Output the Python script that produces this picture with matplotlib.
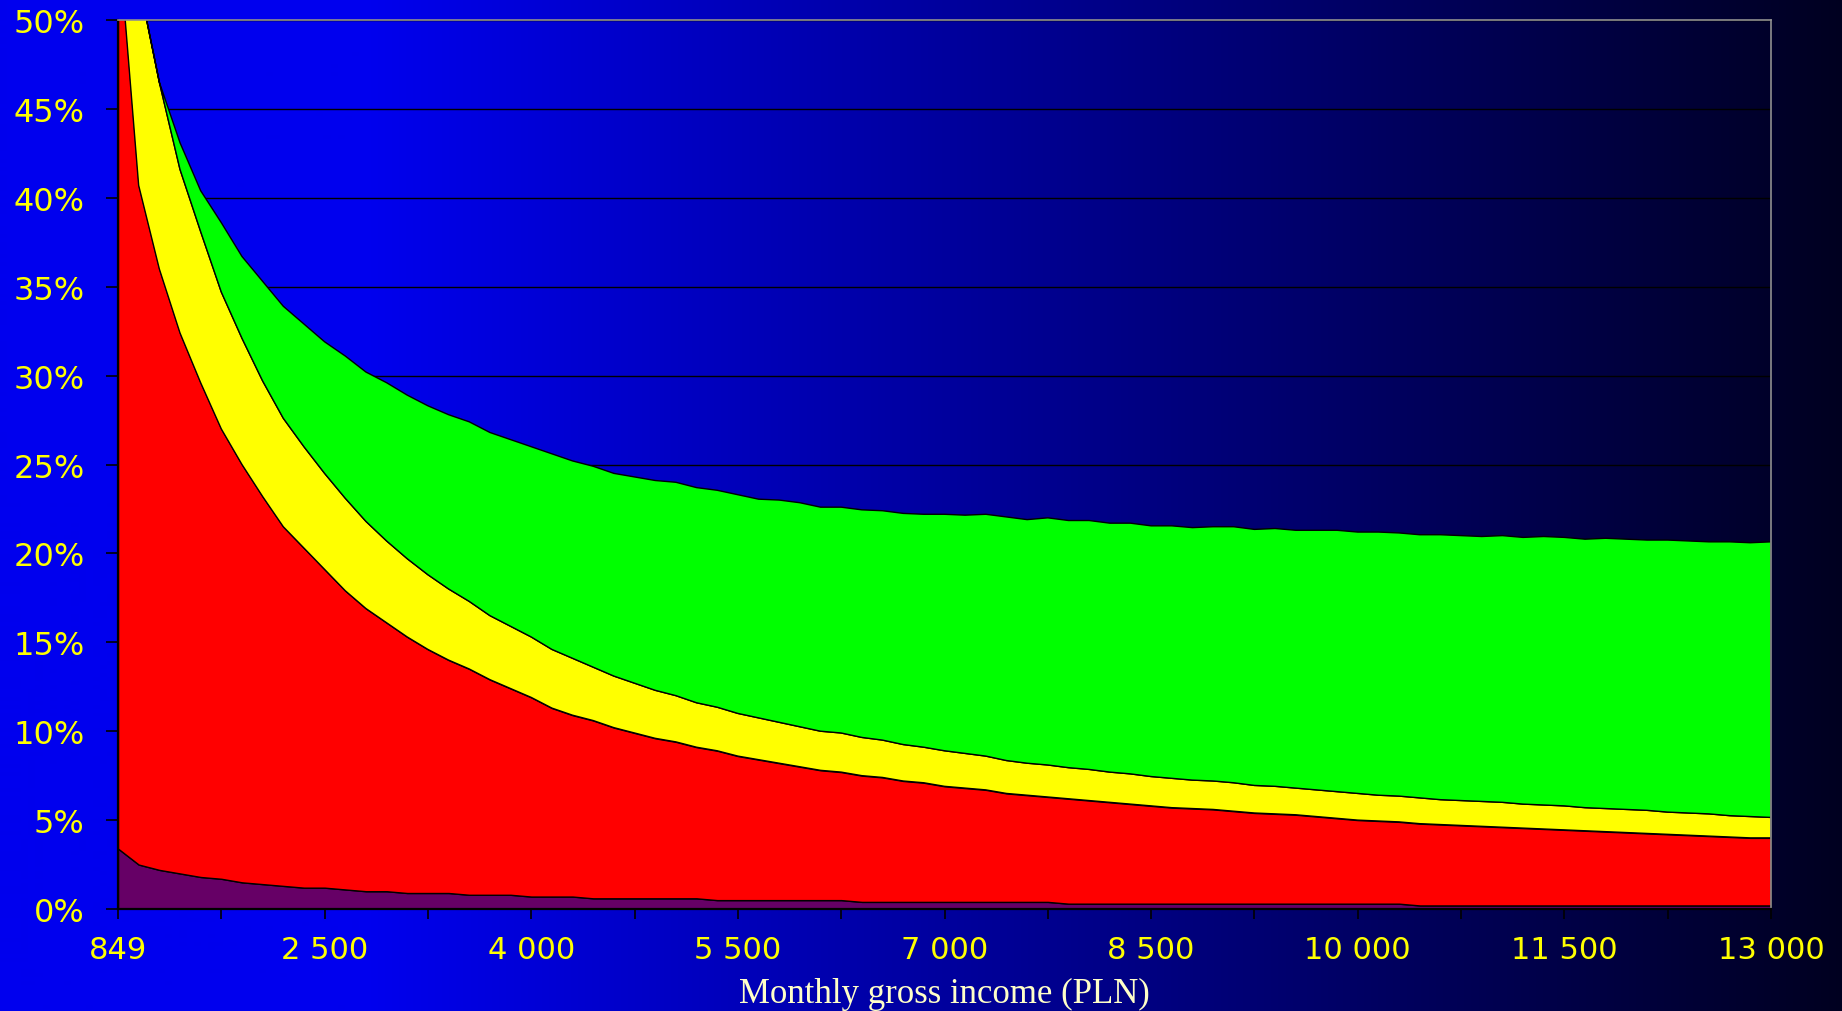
import numpy as np
import matplotlib.pyplot as plt

# kategorie: miesieczny dochod brutto (PLN)
income = [849] + list(range(1150, 13001, 150))

# udzialy w dochodzie (%), serie skumulowane od dolu
purple = [3.4, 2.5, 2.2, 2.0, 1.8, 1.7, 1.5, 1.4, 1.3, 1.2,
          1.2, 1.1, 1.0, 1.0, 0.9, 0.9, 0.9, 0.8, 0.8, 0.8,
          0.7, 0.7, 0.7, 0.6, 0.6, 0.6, 0.6, 0.6, 0.6, 0.5,
          0.5, 0.5, 0.5, 0.5, 0.5, 0.5, 0.4, 0.4, 0.4, 0.4,
          0.4, 0.4, 0.4, 0.4, 0.4, 0.4, 0.3, 0.3, 0.3, 0.3,
          0.3, 0.3, 0.3, 0.3, 0.3, 0.3, 0.3, 0.3, 0.3, 0.3,
          0.3, 0.3, 0.3, 0.2, 0.2, 0.2, 0.2, 0.2, 0.2, 0.2,
          0.2, 0.2, 0.2, 0.2, 0.2, 0.2, 0.2, 0.2, 0.2, 0.2,
          0.2]
red = [51.6, 38.2, 33.8, 30.4, 27.8, 25.3, 23.5, 21.8, 20.2, 19.1,
       17.9, 16.8, 15.9, 15.1, 14.4, 13.7, 13.1, 12.7, 12.1, 11.6,
       11.2, 10.6, 10.2, 10.0, 9.6, 9.3, 9.0, 8.8, 8.5, 8.4,
       8.1, 7.9, 7.7, 7.5, 7.3, 7.2, 7.1, 7.0, 6.8, 6.7,
       6.5, 6.4, 6.3, 6.1, 6.0, 5.9, 5.9, 5.8, 5.7, 5.6,
       5.5, 5.4, 5.35, 5.3, 5.2, 5.1, 5.05, 5.0, 4.9, 4.8,
       4.7, 4.65, 4.6, 4.6, 4.55, 4.5, 4.45, 4.4, 4.35, 4.3,
       4.25, 4.2, 4.15, 4.1, 4.05, 4.0, 3.95, 3.9, 3.85, 3.8,
       3.8]
yellow = [15.5, 11.5, 10.5, 9.2, 8.5, 7.7, 7.1, 6.5, 6.1, 5.7,
          5.4, 5.2, 4.9, 4.6, 4.4, 4.2, 4.0, 3.8, 3.6, 3.5,
          3.4, 3.3, 3.2, 3.0, 2.9, 2.8, 2.7, 2.6, 2.5, 2.45,
          2.4, 2.35, 2.3, 2.25, 2.2, 2.2, 2.15, 2.1, 2.05, 2.0,
          2.0, 1.95, 1.9, 1.85, 1.8, 1.8, 1.75, 1.75, 1.7, 1.7,
          1.65, 1.65, 1.6, 1.6, 1.6, 1.55, 1.55, 1.5, 1.5, 1.5,
          1.5, 1.45, 1.45, 1.45, 1.4, 1.4, 1.4, 1.4, 1.35, 1.35,
          1.35, 1.3, 1.3, 1.3, 1.3, 1.25, 1.25, 1.25, 1.2, 1.2,
          1.15]
green = [0.0, 0.0, 0.0, 1.5, 2.3, 3.9, 4.6, 5.6, 6.3, 6.9,
         7.4, 8.0, 8.4, 8.9, 9.2, 9.5, 9.8, 10.1, 10.3, 10.5,
         10.7, 11.0, 11.1, 11.3, 11.4, 11.6, 11.8, 12.0, 12.1, 12.2,
         12.3, 12.3, 12.5, 12.6, 12.6, 12.7, 12.8, 12.9, 13.0, 13.1,
         13.3, 13.4, 13.6, 13.7, 13.7, 13.9, 13.9, 14.0, 14.0, 14.1,
         14.1, 14.2, 14.2, 14.3, 14.4, 14.4, 14.5, 14.5, 14.6, 14.7,
         14.7, 14.8, 14.8, 14.8, 14.9, 14.9, 14.9, 15.0, 15.0, 15.1,
         15.1, 15.1, 15.2, 15.2, 15.2, 15.3, 15.3, 15.3, 15.4, 15.4,
         15.5]

W, H = 1842, 1012
fig = plt.figure(figsize=(W / 100, H / 100), dpi=100)

# tlo - gradient niebieski -> prawie czarny
bg = fig.add_axes([0, 0, 1, 1], zorder=-10)
cols = np.arange(W)
blue = np.clip(238 - 0.14 * (cols - 370), 25, 238) / 255
grad = np.zeros((1, W, 3))
grad[0, :, 2] = blue
bg.imshow(grad, aspect='auto', extent=[0, 1, 0, 1])
bg.axis('off')

ax = fig.add_axes([118 / W, 1 - 910 / H, (1771 - 118) / W, (910 - 21) / H])
ax.set_facecolor('none')

x = np.arange(len(income))
ax.stackplot(x, purple, red, yellow, green,
             colors=['#660066', '#FF0000', '#FFFF00', '#00FF00'],
             edgecolor='black', linewidth=1.0)

ax.set_xlim(0, len(income) - 1)
ax.set_ylim(0, 50)

ax.set_yticks(range(0, 51, 5))
ax.set_yticklabels([f'{v}%' for v in range(0, 51, 5)])
ax.grid(axis='y', color='black', linewidth=1.0)
ax.set_axisbelow(True)

xt = x[::5]
ax.set_xticks(xt)
ax.set_xticklabels([f'{income[i]:,}'.replace(',', ' ') if i % 10 == 0 else '' for i in xt])

for s in ['left', 'bottom']:
    ax.spines[s].set_color('black')
    ax.spines[s].set_linewidth(1.6)
for s in ['top', 'right']:
    ax.spines[s].set_color('#909090')
    ax.spines[s].set_linewidth(1.2)

ax.tick_params(axis='y', direction='out', length=9, width=1.2, color='black',
               labelcolor='#FFFF00', labelsize=23, pad=15)
ax.tick_params(axis='x', direction='out', length=7, width=1.2, color='black',
               labelcolor='#FFFF00', labelsize=22, pad=12)
for lab in ax.get_xticklabels() + ax.get_yticklabels():
    lab.set_family('DejaVu Sans')

fig.text(944.5 / W, 1 - 994 / H, 'Monthly gross income (PLN)', ha='center', va='center',
         color='#FFFFC8', fontsize=25, family='Liberation Serif')

fig.savefig('out.png', dpi=100)
